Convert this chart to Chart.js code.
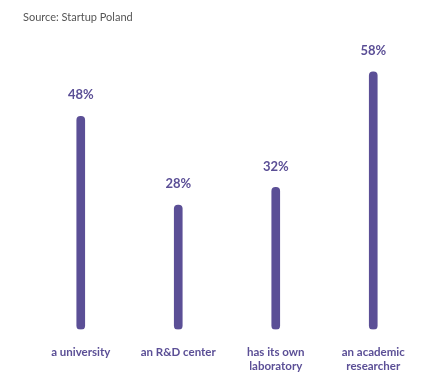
<!DOCTYPE html>
<html>
<head>
<meta charset="utf-8">
<script src="https://cdn.jsdelivr.net/npm/chart.js@4"></script>
<style>
  html, body { margin: 0; padding: 0; background: #fff; }
  #wrap { position: relative; width: 432px; height: 392px; }
  #source { position: absolute; left: 23px; top: 10px; font: 11px Lato, sans-serif; color: #555; }
</style>
</head>
<body>
<div id="wrap">
  <div id="source">Source: Startup Poland</div>
  <canvas id="chart" width="432" height="392"></canvas>
</div>
<script>
// data
const categories = [['a university'], ['an R&D center'], ['has its own', 'laboratory'], ['an academic', 'researcher']];
const shares = [48, 28, 32, 58];

const purple = '#5b4f96';

// draws "48%" etc above each bar
const valueLabels = {
  id: 'valueLabels',
  afterDatasetsDraw(chart) {
    const ctx = chart.ctx;
    const meta = chart.getDatasetMeta(0);
    ctx.save();
    ctx.font = 'bold 13px Lato, sans-serif';
    ctx.fillStyle = purple;
    ctx.textAlign = 'center';
    ctx.textBaseline = 'middle';
    meta.data.forEach((bar, i) => {
      ctx.fillText(shares[i] + '%', bar.x, bar.y - 21);
    });
    ctx.restore();
  }
};

new Chart(document.getElementById('chart'), {
  type: 'bar',
  data: {
    labels: categories,
    datasets: [{
      data: shares,
      backgroundColor: purple,
      barThickness: 8,
      borderRadius: 4,
      borderSkipped: false
    }]
  },
  options: {
    responsive: false,
    animation: false,
    layout: { padding: { left: 32, right: 10, top: 63, bottom: 11 } },
    plugins: { legend: { display: false }, tooltip: { enabled: false } },
    scales: {
      x: {
        grid: { display: false },
        border: { display: false },
        ticks: { color: purple, font: { family: 'Lato', size: 11.5, weight: 'bold' }, padding: 8, maxRotation: 0 }
      },
      y: { display: false, min: 0, max: 60 }
    }
  },
  plugins: [valueLabels]
});
</script>
</body>
</html>
